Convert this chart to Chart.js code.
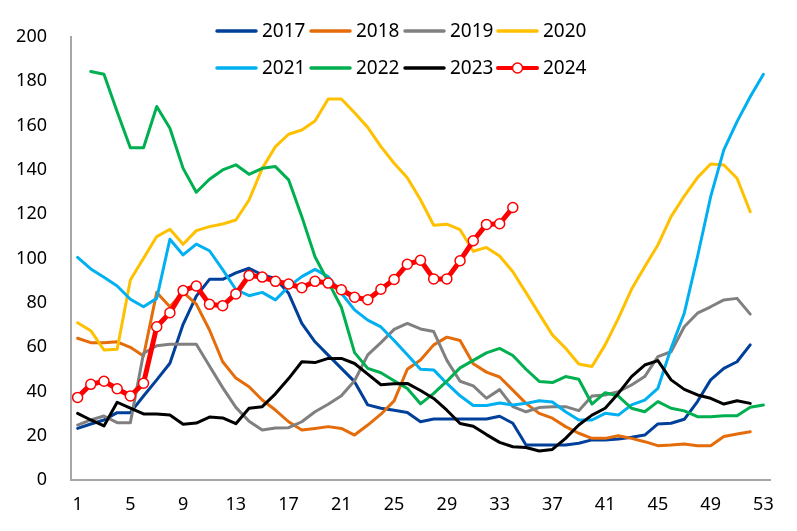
<!DOCTYPE html>
<html>
<head>
<meta charset="utf-8">
<script src="https://cdn.jsdelivr.net/npm/chart.js@4.4.1/dist/chart.umd.min.js"></script>
<style>
html,body{margin:0;padding:0;background:#fff;}
#wrap{width:797px;height:531px;position:relative;}
</style>
</head>
<body>
<div id="wrap"><canvas id="c"></canvas></div>
<script>
const weeks = [1,2,3,4,5,6,7,8,9,10,11,12,13,14,15,16,17,18,19,20,21,22,23,24,25,26,27,28,29,30,31,32,33,34,35,36,37,38,39,40,41,42,43,44,45,46,47,48,49,50,51,52,53];
const xTickLabels = ['1','5','9','13','17','21','25','29','33','37','41','45','49','53'];
const yTicks = [0,20,40,60,80,100,120,140,160,180,200];
const seriesNames = ['2017','2018','2019','2020','2021','2022','2023','2024'];
const seriesColors = ['#00409A','#E46C0A','#808080','#FFC000','#00B0F0','#00B050','#000000','#FF0000'];

const s2017 = [23.3,25.3,27.1,30.4,30.4,37.9,45.2,52.7,70.3,83,90.6,90.6,93.5,95.6,92.6,91,84.3,70.7,62.4,56.4,50.4,44.4,33.9,32.4,31.5,30.5,26.3,27.5,27.5,27.5,27.5,27.5,28.8,25.6,15.8,15.8,15.8,15.8,16.6,18.1,18.1,18.5,19.3,20.3,25.3,25.6,27.4,35.4,45.2,50.4,53.4,61,null];
const s2018 = [64,62,62,62.4,59.9,56,84.7,78.2,84.8,79.4,67.7,53.4,46,42.1,36.1,31.6,26.3,22.6,23.3,24.1,23.3,20.3,24.8,29.7,35.7,50,54.2,61,64.5,63,52.5,48.7,46.5,40.6,34.6,30.1,27.9,24.1,21.1,18.8,18.8,20,18.8,17.3,15.5,15.8,16.3,15.5,15.5,19.6,20.8,21.8,null];
const s2019 = [24.8,27.1,28.9,25.9,25.9,57.2,60.6,61.3,61.3,61.3,51.5,41.7,32.8,26.5,22.6,23.5,23.6,26.3,30.8,34.2,38,44.8,56.5,62,68,70.7,68.2,67,54,44.6,42.5,36.9,40.8,33.1,30.8,32.7,33.1,33.1,31.3,37.9,38.4,39.9,42.9,46.7,55.7,57.9,69.2,75.3,78.2,81.3,82,74.9,null];
const s2020 = [71,67.4,58.7,59,90.3,100.1,109.9,113.2,106.4,112.6,114.4,115.6,117.4,126.4,140.7,150.5,156.1,158,162.1,172,172,165.8,159.2,150.5,143,136.5,126.5,115,115.5,113,103.3,105,101.1,94,84.6,75,65.5,59.5,52.4,51.2,61,73,86.1,96.3,106.1,118.9,128.2,136.5,142.7,142.2,136.2,121.1,null];
const s2021 = [100.5,95.3,91.5,87.6,81.6,78.2,82,108.7,101.6,106.5,103.5,95,86,83.2,84.7,81.3,87.3,91.8,95.1,91.8,84.3,76.8,72.2,69.1,63,56.5,50,49.7,43.6,38,33.6,33.6,34.8,33.9,34.6,35.8,35.2,30.8,27.1,27.1,30.1,29.3,33.9,36.1,41.4,59.5,75.3,100.8,127.9,149,161.8,173,183.2];
const s2022 = [null,184.4,183.2,166.3,150,150,168.6,158.8,140.7,129.9,135.8,140,142.3,138,140.7,141.5,135.5,118.9,100.8,89.5,78,57.5,50.4,48.4,44.8,41.3,34.4,39.1,44.6,50.6,54,57.4,59.4,56.2,50,44.5,44,46.7,45.5,34.3,39.4,37.9,32.4,30.8,35.4,32.4,31.2,28.6,28.6,29,29,32.8,33.9];
const s2023 = [30.1,27.1,24.4,35.1,32.4,29.8,29.8,29.3,25.2,25.7,28.4,28,25.4,32.4,33.1,38.9,45.8,53.4,53,54.9,54.9,52.6,47.8,43,43.4,43.6,40.4,36.8,31.5,25.5,24.3,20.5,17,15,14.7,13.1,13.8,18.8,24.8,29.3,32.4,39.1,46.7,51.9,53.9,45.2,40.9,38.4,36.9,34.3,35.8,34.6,null];
const s2024 = [37.3,43.2,44.6,41.2,37.9,43.7,69.2,75.5,85.5,87.6,79.3,78.7,84,92.3,91.6,89.7,88.5,86.8,89.7,88.9,85.9,82.5,81.4,86.1,90.5,97.4,99.2,90.8,90.8,99,108,115.4,115.7,123];

const seriesData = [s2017,s2018,s2019,s2020,s2021,s2022,s2023,s2024];
const FONT = '"Noto Sans", "Open Sans", sans-serif';

const datasets = seriesData.map((d,i) => {
  const is24 = i === 7;
  return {
    label: seriesNames[i],
    data: d,
    borderColor: seriesColors[i],
    backgroundColor: seriesColors[i],
    borderWidth: is24 ? 5 : 3,
    tension: 0,
    spanGaps: false,
    borderJoinStyle: 'round',
    borderCapStyle: 'round',
    pointRadius: is24 ? 5 : 0,
    pointHoverRadius: is24 ? 5 : 0,
    pointBackgroundColor: '#FFFFFF',
    pointBorderColor: seriesColors[i],
    pointBorderWidth: 1.5,
    order: 8 - i,
    fill: false
  };
});

const legendRows = [[0,1,2,3],[4,5,6,7]];
const legendItemX = [216, 310, 404, 497];
const legendRowY = [31, 68];

const twoRowLegend = {
  id: 'twoRowLegend',
  afterDraw(chart) {
    const ctx = chart.ctx;
    ctx.save();
    ctx.font = '19px ' + FONT;
    ctx.textBaseline = 'middle';
    ctx.textAlign = 'left';
    legendRows.forEach((row, r) => {
      row.forEach((idx, k) => {
        const ds = chart.data.datasets[idx];
        const x = legendItemX[k];
        const y = legendRowY[r];
        ctx.strokeStyle = ds.borderColor;
        ctx.lineWidth = idx === 7 ? 4 : 3.5;
        ctx.lineCap = 'round';
        ctx.beginPath();
        ctx.moveTo(x + 1, y);
        ctx.lineTo(x + 40, y);
        ctx.stroke();
        if (ds.pointRadius > 0) {
          ctx.beginPath();
          ctx.arc(x + 20.5, y, 5, 0, Math.PI * 2);
          ctx.fillStyle = '#FFFFFF';
          ctx.fill();
          ctx.lineWidth = 1.5;
          ctx.strokeStyle = ds.borderColor;
          ctx.stroke();
        }
        ctx.fillStyle = '#000000';
        ctx.fillText(ds.label, x + 46, y + 1);
      });
    });
    ctx.restore();
  }
};

new Chart(document.getElementById('c'), {
  type: 'line',
  data: { labels: weeks.map(String), datasets },
  options: {
    responsive: true,
    maintainAspectRatio: false,
    animation: false,
    events: [],
    layout: { padding: { top: 37, right: 27, bottom: 0, left: 0 } },
    plugins: {
      legend: { display: false },
      tooltip: { enabled: false },
      title: { display: false }
    },
    scales: {
      x: {
        type: 'category',
        offset: true,
        grid: { display: false, drawTicks: false },
        border: { display: true, color: '#A6A6A6', width: 2 },
        ticks: {
          autoSkip: false,
          maxRotation: 0,
          minRotation: 0,
          padding: 14,
          color: '#000000',
          font: { family: FONT, size: 18 },
          callback: function(value, index) {
            const lab = this.getLabelForValue(value);
            return xTickLabels.includes(lab) ? lab : '';
          }
        },
        afterFit(scale) { scale.height = 51; }
      },
      y: {
        min: 0,
        max: 200,
        grid: { display: false, drawTicks: false },
        border: { display: true, color: '#A6A6A6', width: 2 },
        afterBuildTicks(scale) { scale.ticks = yTicks.map(v => ({ value: v })); },
        ticks: {
          padding: 24,
          color: '#000000',
          font: { family: FONT, size: 18 }
        },
        afterFit(scale) { scale.width = 71; }
      }
    }
  },
  plugins: [twoRowLegend]
});
</script>
</body>
</html>
